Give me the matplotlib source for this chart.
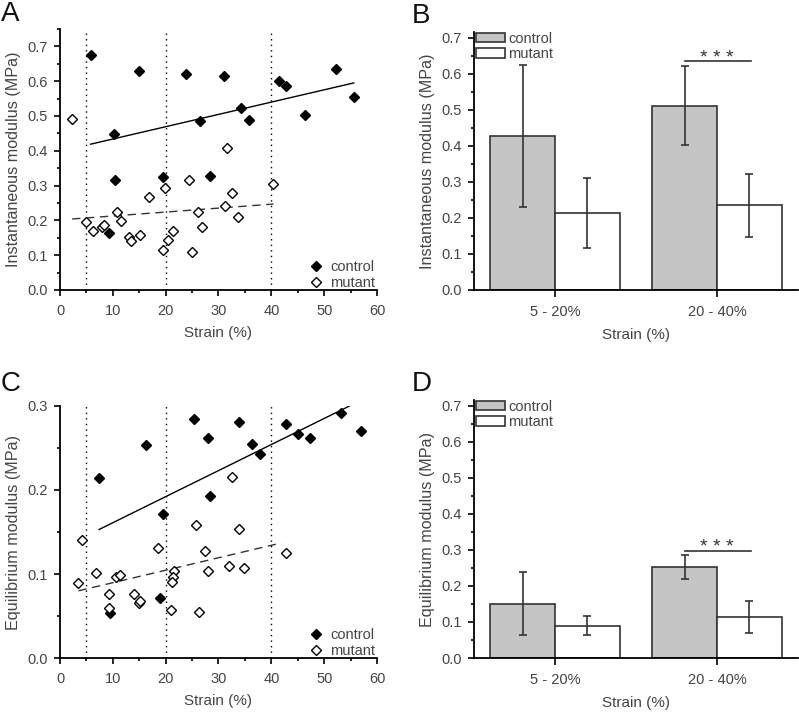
import numpy as np
import matplotlib.pyplot as plt
from matplotlib.ticker import MultipleLocator

plt.rcParams['font.family'] = ['Liberation Sans', 'DejaVu Sans']

# panel A: instantaneous modulus vs strain
a_ctrl_x = [5.8, 15.0, 10.3, 10.4, 9.2, 19.5, 23.8, 31.0, 26.5, 28.3, 34.2, 35.8, 41.4, 42.7, 46.3, 52.2, 55.6]
a_ctrl_y = [0.676, 0.630, 0.448, 0.317, 0.164, 0.325, 0.622, 0.614, 0.485, 0.328, 0.523, 0.488, 0.601, 0.586, 0.503, 0.634, 0.555]
a_mut_x = [2.3, 4.9, 6.3, 7.9, 8.3, 10.8, 11.6, 13.0, 13.4, 15.2, 16.9, 19.5, 19.9, 20.5, 21.3, 24.5, 25.0, 26.1, 26.8, 31.7, 31.3, 32.6, 33.7, 40.4]
a_mut_y = [0.491, 0.194, 0.170, 0.182, 0.187, 0.225, 0.197, 0.153, 0.141, 0.158, 0.268, 0.115, 0.292, 0.145, 0.170, 0.316, 0.110, 0.223, 0.182, 0.408, 0.240, 0.280, 0.210, 0.304]
a_fit_ctrl_x = [5.8, 55.6]
a_fit_ctrl_y = [0.419, 0.595]
a_fit_mut_x = [2.3, 40.4]
a_fit_mut_y = [0.204, 0.247]

# panel C: equilibrium modulus vs strain
c_ctrl_x = [7.4, 16.2, 9.5, 19.5, 18.9, 25.3, 28.0, 28.4, 33.9, 36.4, 37.9, 42.7, 45.0, 47.3, 53.2, 56.9]
c_ctrl_y = [0.214, 0.254, 0.054, 0.171, 0.071, 0.284, 0.262, 0.193, 0.281, 0.255, 0.243, 0.279, 0.267, 0.262, 0.292, 0.270]
c_mut_x = [3.5, 4.2, 6.8, 9.2, 9.2, 10.6, 11.4, 14.1, 15.0, 15.2, 18.6, 21.0, 21.5, 21.4, 21.2, 25.8, 26.3, 27.5, 28.1, 32.5, 31.9, 33.9, 34.8, 42.7]
c_mut_y = [0.089, 0.141, 0.101, 0.076, 0.060, 0.097, 0.099, 0.076, 0.065, 0.068, 0.131, 0.057, 0.104, 0.096, 0.090, 0.158, 0.055, 0.127, 0.103, 0.216, 0.110, 0.154, 0.107, 0.125]
c_fit_ctrl_x = [7.4, 54.8]
c_fit_ctrl_y = [0.153, 0.300]
c_fit_mut_x = [3.5, 41.9]
c_fit_mut_y = [0.080, 0.137]

# panels B and D: means and errors per strain range
groups = ['5 - 20%', '20 - 40%']
b_ctrl = [0.427, 0.511]
b_ctrl_err = [0.198, 0.109]
b_mut = [0.214, 0.235]
b_mut_err = [0.097, 0.087]
d_ctrl = [0.151, 0.252]
d_ctrl_err = [0.088, 0.034]
d_mut = [0.090, 0.114]
d_mut_err = [0.026, 0.045]

grey_txt = '#444444'

fig = plt.figure(figsize=(7.99, 7.12), dpi=100)


def style_axes(ax):
    for s in ['top', 'right']:
        ax.spines[s].set_visible(False)
    for s in ['left', 'bottom']:
        ax.spines[s].set_linewidth(1.3)
    ax.tick_params(which='both', direction='out', labelsize=10.5, labelcolor=grey_txt, width=1.2)
    ax.tick_params(which='major', length=4)
    ax.tick_params(which='minor', length=2.5)
    ax.tick_params(axis='x', which='major', pad=6)
    ax.tick_params(axis='y', which='major', pad=5)


def scatter_panel(ax, cx, cy, mx, my, fcx, fcy, fmx, fmy, ymax, ylabel):
    for v in [5, 20, 40]:
        ax.axvline(v, color='k', ls=(0, (1, 3)), lw=1.0, zorder=1)
    ax.plot(fcx, fcy, color='k', lw=1.0, zorder=2)
    ax.plot(fmx, fmy, color='#333333', lw=1.0, ls=(0, (6, 4)), zorder=2)
    ax.plot(cx, cy, 'D', color='k', ms=5, ls='none', label='control', zorder=3)
    ax.plot(mx, my, 'D', mfc='white', mec='k', mew=1.0, ms=5, ls='none', label='mutant', zorder=3)
    ax.set_xlim(0, 60)
    ax.set_ylim(0, ymax)
    ax.xaxis.set_major_locator(MultipleLocator(10))
    ax.xaxis.set_minor_locator(MultipleLocator(5))
    ax.set_yticks(np.arange(0, min(ymax, 0.7) + 1e-9, 0.1))
    ax.yaxis.set_minor_locator(MultipleLocator(0.05))
    ax.set_xlabel('Strain (%)', fontsize=11, color=grey_txt, labelpad=6)
    ax.set_ylabel(ylabel, fontsize=11.6, color=grey_txt)
    style_axes(ax)
    ax.legend(loc='lower right', bbox_to_anchor=(1.0, -0.005), frameon=False, fontsize=10.5,
              labelcolor=grey_txt, handlelength=1.0, handletextpad=0.5, borderaxespad=0,
              borderpad=0.1, labelspacing=0.15)


def bar_panel(ax, ctrl, ctrl_err, mut, mut_err, sig_y, ylabel):
    x = np.arange(len(groups))
    ekw = dict(ecolor='#333333', elinewidth=1.2, capthick=1.2)
    ax.bar(x - 0.2, ctrl, 0.4, yerr=ctrl_err, color='#c4c4c4', edgecolor='#333333', lw=1.2,
           capsize=3, error_kw=ekw, label='control')
    ax.bar(x + 0.2, mut, 0.4, yerr=mut_err, color='white', edgecolor='#333333', lw=1.2,
           capsize=3, error_kw=ekw, label='mutant')
    ax.plot([0.8, 1.21], [sig_y, sig_y], color='#333333', lw=1.2)
    ax.text(1.0, sig_y - 0.016, '* * *', ha='center', va='bottom', fontsize=14, color='#333333')
    ax.set_xlim(-0.5, 1.5)
    ax.set_ylim(0, 0.715)
    ax.set_xticks(x)
    ax.set_xticklabels(groups)
    ax.set_yticks(np.arange(0, 0.71, 0.1))
    ax.yaxis.set_minor_locator(MultipleLocator(0.05))
    ax.set_xlabel('Strain (%)', fontsize=11, color=grey_txt, labelpad=6)
    ax.set_ylabel(ylabel, fontsize=11.6, color=grey_txt)
    style_axes(ax)
    ax.tick_params(axis='x', which='major', length=5, pad=6)
    leg = ax.legend(loc='upper left', bbox_to_anchor=(0.005, 1.005), frameon=False, fontsize=10.5,
                    labelcolor=grey_txt, handlelength=2.0, handleheight=0.65, handletextpad=0.2,
                    labelspacing=0.1, borderaxespad=0, borderpad=0.05)
    leg.set_zorder(1)


axA = fig.add_axes([0.0751, 0.5927, 0.3967, 0.3666])
scatter_panel(axA, a_ctrl_x, a_ctrl_y, a_mut_x, a_mut_y, a_fit_ctrl_x, a_fit_ctrl_y,
              a_fit_mut_x, a_fit_mut_y, 0.75, 'Instantaneous modulus (MPa)')

axC = fig.add_axes([0.0751, 0.0758, 0.3967, 0.354])
scatter_panel(axC, c_ctrl_x, c_ctrl_y, c_mut_x, c_mut_y, c_fit_ctrl_x, c_fit_ctrl_y,
              c_fit_mut_x, c_fit_mut_y, 0.3, 'Equilibrium modulus (MPa)')

axB = fig.add_axes([0.5932, 0.5927, 0.4055, 0.362])
bar_panel(axB, b_ctrl, b_ctrl_err, b_mut, b_mut_err, 0.634, 'Instantaneous modulus (MPa)')

axD = fig.add_axes([0.5932, 0.0758, 0.4055, 0.362])
bar_panel(axD, d_ctrl, d_ctrl_err, d_mut, d_mut_err, 0.298, 'Equilibrium modulus (MPa)')

for lab, (px, py) in zip('ABCD', [(1, 1), (412, 3), (1, 371), (412, 371)]):
    fig.text(px / 799, 1 - py / 712, lab, fontsize=20, va='top', ha='left', color='#111111')

fig.savefig('out.png', dpi=100)
